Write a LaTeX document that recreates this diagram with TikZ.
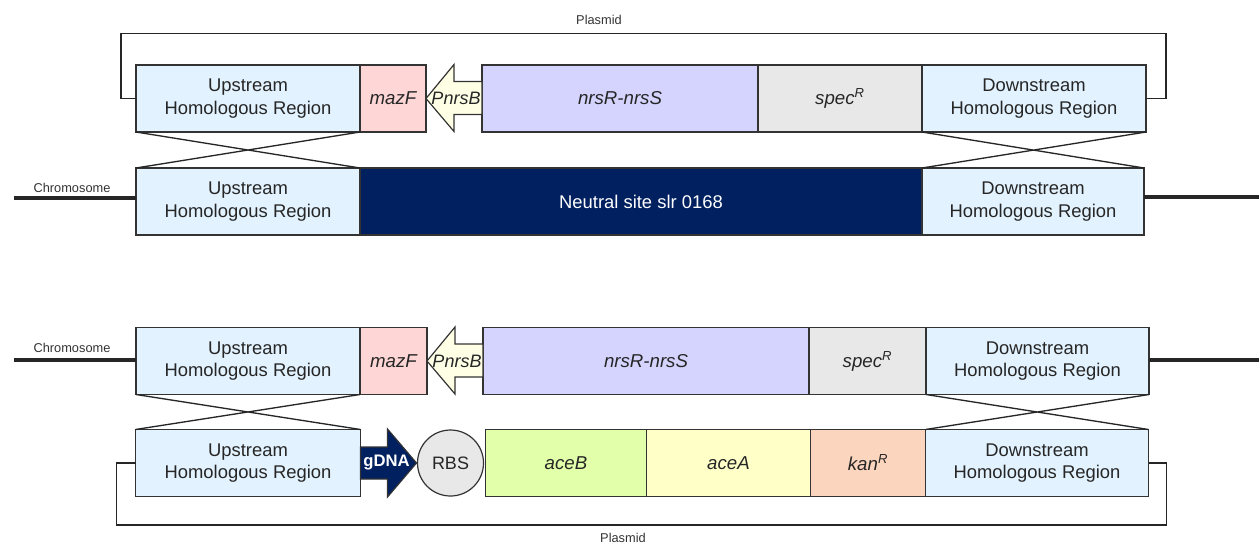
\documentclass[tikz,border=0pt]{standalone}
\usepackage{fontspec}
\setmainfont{Liberation Sans}
\usetikzlibrary{positioning, calc}
\definecolor{homfill}{HTML}{E2F2FE}
\definecolor{mazfill}{HTML}{FFD6D6}
\definecolor{promfill}{HTML}{FFFFE6}
\definecolor{nrsfill}{HTML}{D4D4FF}
\definecolor{specfill}{HTML}{E8E8E8}
\definecolor{sitefill}{HTML}{002060}
\definecolor{acebfill}{HTML}{E2FFAA}
\definecolor{aceafill}{HTML}{FFFFC8}
\definecolor{kanfill}{HTML}{FCD5BE}
\definecolor{rbsfill}{HTML}{E8E8E8}
\begin{document}
\begin{tikzpicture}[
    x=0.75pt, y=-0.75pt,
    font=\fontsize{13.8}{17}\selectfont,
    text=black!85,
    part/.style={rectangle, draw=black!80, line width=0.95pt, outer sep=0pt, inner sep=0pt, minimum height=50.25pt, align=center},
    homol/.style={part, fill=homfill},
    gene/.style={part, font=\fontsize{14}{17}\selectfont\itshape},
    promoter/.style={draw=black!80, line width=0.9pt, fill=promfill},
    promtext/.style={font=\fontsize{13.5}{16}\selectfont\itshape, inner sep=0pt},
    gdna/.style={draw=black!80, line width=0.9pt, fill=sitefill},
    rbsbox/.style={circle, draw=black!80, line width=0.9pt, fill=rbsfill, outer sep=0pt, inner sep=0pt, minimum size=49.5pt, font=\fontsize{13.5}{16}\selectfont},
    cross/.style={draw=black!85, line width=1pt},
    chrom/.style={draw=black!85, line width=3pt},
    plasmid/.style={draw=black!85, line width=1.4pt},
    tag/.style={font=\fontsize{9.6}{11}\selectfont, text=black!80}
]
\useasboundingbox (0,0) rectangle (1259,544);

% plasmid integration into the neutral site
\node[homol, minimum width=168pt, anchor=west] (up1) at (136,98.5) {Upstream\\Homologous Region};
\node[gene, fill=mazfill, minimum width=49.5pt, right=0pt of up1] (maz1) {mazF};
\node[gene, fill=nrsfill, minimum width=207pt, right=42pt of maz1] (nrs1) {nrsR-nrsS};
\node[gene, fill=specfill, minimum width=123pt, right=0pt of nrs1] (spec1) {spec\textsuperscript{R}};
\node[homol, minimum width=168pt, right=0pt of spec1] (down1) {Downstream\\Homologous Region};
\draw[promoter] (maz1.east) -- ++(28,-34) -- ++(0,17) -- ++(28,0) -- ++(0,33) -- ++(-28,0) -- ++(0,17) -- cycle;
\node[promtext] (prom1) at ($(maz1.east)+(30,0)$) {PnrsB};

\node[homol, minimum width=168pt, below=27pt of up1] (up2) {Upstream\\Homologous Region};
\node[part, fill=sitefill, text=white, minimum width=421.5pt, right=0pt of up2] (site) {Neutral site slr 0168};
\node[homol, minimum width=166.5pt, right=0pt of site] (down2) {Downstream\\Homologous Region};

\draw[cross] (up1.south west) -- (up2.north east) (up1.south east) -- (up2.north west);
\draw[cross] (down1.south west) -- (down2.north east) (down1.south east) -- (down2.north west);

\coordinate (chrL1) at (14,198);
\coordinate (chrR1) at (1259,197);
\draw[chrom] (chrL1) -- (chrL1 -| up2.west);
\draw[chrom] (chrR1 -| down2.east) -- (chrR1);
\node[tag] (chrT1) at (72,188) {Chromosome};

\draw[plasmid] (up1.west) -- ++(-15,0) |- ($(down1.east)+(20,-65)$) |- (down1.east);
\node[tag] (plT1) at (599,20) {Plasmid};

% second crossover: gDNA cassette replaces the counter-selection cassette
\node[homol, minimum width=168pt, anchor=west] (up3) at (136,361) {Upstream\\Homologous Region};
\node[gene, fill=mazfill, minimum width=50.25pt, right=0pt of up3] (maz3) {mazF};
\node[gene, fill=nrsfill, minimum width=244.5pt, right=42pt of maz3] (nrs3) {nrsR-nrsS};
\node[gene, fill=specfill, minimum width=87.75pt, right=0pt of nrs3] (spec3) {spec\textsuperscript{R}};
\node[homol, minimum width=167.25pt, right=0pt of spec3] (down3) {Downstream\\Homologous Region};
\draw[promoter] (maz3.east) -- ++(28,-34) -- ++(0,17) -- ++(28,0) -- ++(0,33) -- ++(-28,0) -- ++(0,17) -- cycle;
\node[promtext] (prom3) at ($(maz3.east)+(30,0)$) {PnrsB};

\node[homol, minimum width=168.75pt, below=26.25pt of up3] (up4) {Upstream\\Homologous Region};
\node[rbsbox, right=42.75pt of up4] (rbs) {RBS};
\node[gene, fill=acebfill, minimum width=120.75pt, right=1.5pt of rbs] (aceB) {aceB};
\node[gene, fill=aceafill, minimum width=123pt, right=0pt of aceB] (aceA) {aceA};
\node[gene, fill=kanfill, minimum width=86.25pt, right=0pt of aceA] (kan) {kan\textsuperscript{R}};
\node[homol, minimum width=167.25pt, right=0pt of kan] (down4) {Downstream\\Homologous Region};
\draw[gdna] (up4.east) ++(0,-16) -- ++(27,0) -- ++(0,-18) -- ++(29,34) -- ++(-29,34) -- ++(0,-18) -- ++(-27,0) -- cycle;
\node[font=\fontsize{12.5}{15}\selectfont\bfseries, text=white, inner sep=0pt] (gdnaT) at ($(up4.east)+(26,0)$) {gDNA};

\draw[cross] (up3.south west) -- (up4.north east) (up3.south east) -- (up4.north west);
\draw[cross] (down3.south west) -- (down4.north east) (down3.south east) -- (down4.north west);

\coordinate (chrL3) at (14,360);
\coordinate (chrR3) at (1259,360);
\draw[chrom] (chrL3) -- (chrL3 -| up3.west);
\draw[chrom] (chrR3 -| down3.east) -- (chrR3);
\node[tag] (chrT3) at (72,348) {Chromosome};

\draw[plasmid] (up4.west) -- ++(-19,0) |- ($(down4.east)+(18,62)$) |- (down4.east);
\node[tag] (plT4) at (623,538) {Plasmid};
\end{tikzpicture}
\end{document}
